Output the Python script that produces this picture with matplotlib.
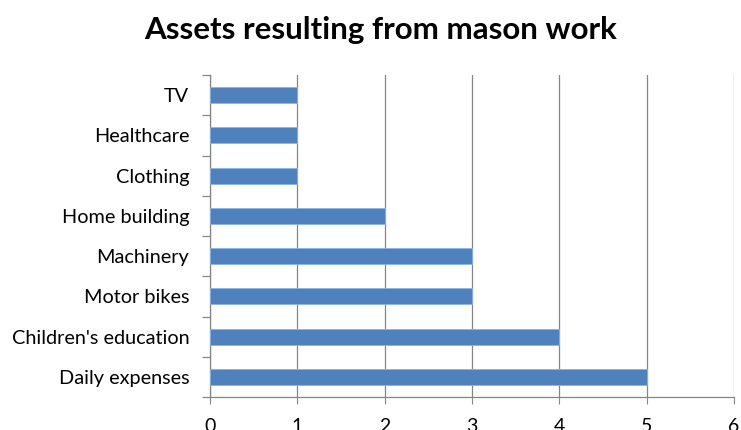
import matplotlib
matplotlib.use("Agg")
import matplotlib.pyplot as plt

# categories listed bottom to top
categories = ["Daily expenses", "Children's education", "Motor bikes", "Machinery",
              "Home building", "Clothing", "Healthcare", "TV"]
counts = [5, 4, 3, 3, 2, 1, 1, 1]
x_ticks = [0, 1, 2, 3, 4, 5, 6]

BAR = "#4F81BD"
GRID = "#868686"

plt.rcParams["font.family"] = ["Lato", "DejaVu Sans"]

fig = plt.figure(figsize=(7.41, 4.30), dpi=100)
ax = fig.add_axes([210 / 741, 33 / 430, 524 / 741, 322 / 430])

ypos = list(range(len(categories)))
ax.barh(ypos, counts, height=0.4, color=BAR, edgecolor="#8EB4E3", linewidth=0.6, zorder=3)

ax.set_xlim(0, 6)
ax.set_ylim(-0.5, len(categories) - 0.5)
ax.set_xticks(x_ticks)
ax.set_xticklabels([str(t) for t in x_ticks], fontsize=14, color="#000000")
ax.tick_params(axis="x", length=5, color=GRID, pad=10)

# category labels centred on bars, tick marks between categories
ax.set_yticks(ypos)
ax.set_yticklabels(categories, fontsize=14.3)
ax.tick_params(axis="y", which="major", length=0, pad=15)
ax.set_yticks([y - 0.5 for y in ypos] + [len(categories) - 0.5], minor=True)
ax.tick_params(axis="y", which="minor", length=6, color=GRID, width=0.9)

ax.grid(axis="x", color=GRID, linewidth=0.9, zorder=0)
for side in ["top", "right"]:
    ax.spines[side].set_visible(False)
for side in ["left", "bottom"]:
    ax.spines[side].set_color(GRID)
    ax.spines[side].set_linewidth(0.9)

fig.text(381 / 741, 1 - 30 / 430, "Assets resulting from mason work", ha="center", va="center",
         fontsize=22.5, fontweight="bold")

fig.savefig("out.png", dpi=100)
